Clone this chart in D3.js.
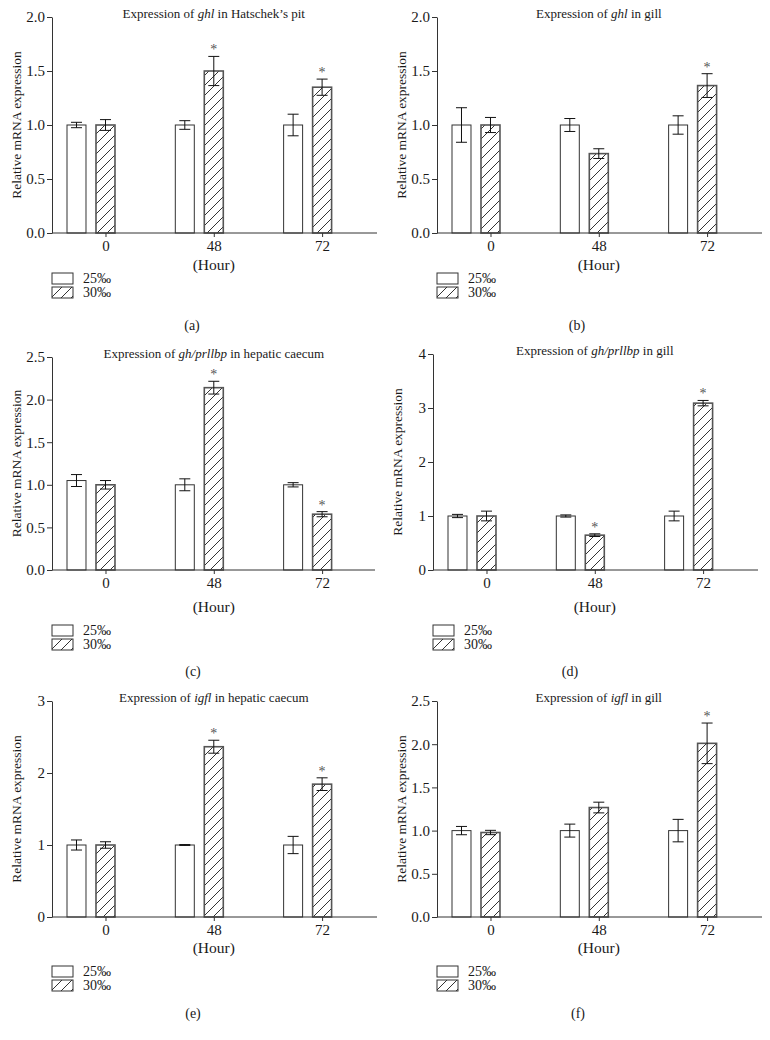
<!DOCTYPE html>
<html>
<head>
<meta charset="utf-8">
<script src="https://cdn.jsdelivr.net/npm/d3@7"></script>
<style>
  body { margin: 0; background: #fff; }
  text { font-family: "Liberation Serif", "DejaVu Serif", serif; fill: #1a1a1a; }
</style>
</head>
<body>
<script>
// categories
var hours = ["0", "48", "72"];
var salinity = ["25‰", "30‰"];

// (a) ghl in Hatschek's pit
var pitGhl25 = [1.00, 1.00, 1.00];
var pitGhl25Err = [0.025, 0.04, 0.10];
var pitGhl30 = [1.00, 1.50, 1.35];
var pitGhl30Err = [0.05, 0.135, 0.075];
var pitGhlStar = [0, 1, 1];
var ticksA = [0, 0.5, 1.0, 1.5, 2.0];

// (b) ghl in gill
var gillGhl25 = [1.00, 1.00, 1.00];
var gillGhl25Err = [0.16, 0.06, 0.085];
var gillGhl30 = [1.00, 0.735, 1.365];
var gillGhl30Err = [0.07, 0.045, 0.11];
var gillGhlStar = [0, 0, 1];
var ticksB = [0, 0.5, 1.0, 1.5, 2.0];

// (c) gh/prllbp in hepatic caecum
var caecumGh25 = [1.05, 1.00, 1.00];
var caecumGh25Err = [0.07, 0.07, 0.025];
var caecumGh30 = [1.00, 2.14, 0.655];
var caecumGh30Err = [0.05, 0.075, 0.03];
var caecumGhStar = [0, 1, 1];
var ticksC = [0, 0.5, 1.0, 1.5, 2.0, 2.5];

// (d) gh/prllbp in gill
var gillGh25 = [1.00, 1.00, 1.00];
var gillGh25Err = [0.03, 0.02, 0.09];
var gillGh30 = [1.00, 0.645, 3.09];
var gillGh30Err = [0.09, 0.025, 0.05];
var gillGhStar = [0, 1, 1];
var ticksD = [0, 1, 2, 3, 4];

// (e) igfl in hepatic caecum
var caecumIgf25 = [1.00, 1.00, 1.00];
var caecumIgf25Err = [0.07, 0.006, 0.12];
var caecumIgf30 = [1.00, 2.365, 1.845];
var caecumIgf30Err = [0.045, 0.09, 0.088];
var caecumIgfStar = [0, 1, 1];
var ticksE = [0, 1, 2, 3];

// (f) igfl in gill
var gillIgf25 = [1.00, 1.00, 1.00];
var gillIgf25Err = [0.048, 0.075, 0.13];
var gillIgf30 = [0.978, 1.267, 2.01];
var gillIgf30Err = [0.025, 0.062, 0.235];
var gillIgfStar = [0, 0, 1];
var ticksF = [0, 0.5, 1.0, 1.5, 2.0, 2.5];

var panels = [
  {letter: "(a)", title: ["Expression of ", "ghl", " in Hatschek’s pit"], low: pitGhl25, lowErr: pitGhl25Err, high: pitGhl30, highErr: pitGhl30Err, star: pitGhlStar, ticks: ticksA, fmt: ".1f",
   axisX: 52, top: 17, bottom: 233, right: 377, legendY: 273, hourDy: 37, letterX: 192, letterY: 330},
  {letter: "(b)", title: ["Expression of ", "ghl", " in gill"], low: gillGhl25, lowErr: gillGhl25Err, high: gillGhl30, highErr: gillGhl30Err, star: gillGhlStar, ticks: ticksB, fmt: ".1f",
   axisX: 437, top: 17, bottom: 233, right: 762, legendY: 273, hourDy: 37, letterX: 577, letterY: 330},
  {letter: "(c)", title: ["Expression of ", "gh/prllbp", " in hepatic caecum"], low: caecumGh25, lowErr: caecumGh25Err, high: caecumGh30, highErr: caecumGh30Err, star: caecumGhStar, ticks: ticksC, fmt: ".1f",
   axisX: 52, top: 357, bottom: 570, right: 375, legendY: 625, hourDy: 42, letterX: 193, letterY: 676},
  {letter: "(d)", title: ["Expression of ", "gh/prllbp", " in gill"], low: gillGh25, lowErr: gillGh25Err, high: gillGh30, highErr: gillGh30Err, star: gillGhStar, ticks: ticksD, fmt: "d",
   axisX: 433, top: 354, bottom: 570, right: 758, legendY: 625, hourDy: 42, letterX: 570, letterY: 676},
  {letter: "(e)", title: ["Expression of ", "igfl", " in hepatic caecum"], low: caecumIgf25, lowErr: caecumIgf25Err, high: caecumIgf30, highErr: caecumIgf30Err, star: caecumIgfStar, ticks: ticksE, fmt: "d",
   axisX: 52, top: 701, bottom: 917, right: 377, legendY: 966, hourDy: 36, letterX: 193, letterY: 1018},
  {letter: "(f)", title: ["Expression of ", "igfl", " in gill"], low: gillIgf25, lowErr: gillIgf25Err, high: gillIgf30, highErr: gillIgf30Err, star: gillIgfStar, ticks: ticksF, fmt: ".1f",
   axisX: 437, top: 701, bottom: 917, right: 762, legendY: 966, hourDy: 36, letterX: 578, letterY: 1018}
];

var svg = d3.select("body").append("svg")
  .attr("width", 770)
  .attr("height", 1040);

svg.append("defs").append("pattern")
  .attr("id", "hatch")
  .attr("patternUnits", "userSpaceOnUse")
  .attr("width", 10)
  .attr("height", 10)
  .append("path")
  .attr("d", "M-1,11 L11,-1 M-1,1 L1,-1 M9,11 L11,9")
  .attr("stroke", "#333")
  .attr("stroke-width", 1);

function drawPanel(p) {
  var g = svg.append("g");

  var x0 = d3.scaleBand()
    .domain(hours)
    .range([p.axisX + 15, p.axisX + 15 + 264.6])
    .paddingInner(0.557)
    .paddingOuter(0)
    .align(0);

  var x1 = d3.scaleBand()
    .domain(salinity)
    .range([0, x0.bandwidth()])
    .paddingInner(0.345)
    .paddingOuter(0);

  var y = d3.scaleLinear()
    .domain([0, d3.max(p.ticks)])
    .range([p.bottom, p.top]);

  // ticks sit under the 30‰ bar of each group
  var xTick = d3.scaleOrdinal()
    .domain(hours)
    .range(hours.map(function(h) { return x0(h) + x1(salinity[1]) + x1.bandwidth() / 2; }));

  var rows = hours.map(function(h, i) {
    return [
      {hour: h, s: salinity[0], v: p.low[i], e: p.lowErr[i], star: 0},
      {hour: h, s: salinity[1], v: p.high[i], e: p.highErr[i], star: p.star[i]}
    ];
  });
  var flat = [].concat.apply([], rows);

  g.selectAll(".bar")
    .data(flat)
    .enter().append("rect")
    .attr("class", "bar")
    .attr("x", function(d) { return x0(d.hour) + x1(d.s); })
    .attr("y", function(d) { return y(d.v); })
    .attr("width", x1.bandwidth())
    .attr("height", function(d) { return y(0) - y(d.v); })
    .attr("fill", function(d) { return d.s === salinity[0] ? "#fff" : "url(#hatch)"; })
    .attr("stroke", function(d) { return d.s === salinity[0] ? "#333" : "#555"; })
    .attr("stroke-width", function(d) { return d.s === salinity[0] ? 1 : 1.6; });

  var eb = g.selectAll(".err")
    .data(flat)
    .enter().append("g")
    .attr("class", "err")
    .attr("transform", function(d) { return "translate(" + (x0(d.hour) + x1(d.s) + x1.bandwidth() / 2) + ",0)"; });
  eb.append("line")
    .attr("y1", function(d) { return y(d.v - d.e); })
    .attr("y2", function(d) { return y(d.v + d.e); })
    .attr("stroke", "#111");
  eb.append("line")
    .attr("x1", -5.5).attr("x2", 5.5)
    .attr("y1", function(d) { return y(d.v + d.e); })
    .attr("y2", function(d) { return y(d.v + d.e); })
    .attr("stroke", "#111");
  eb.append("line")
    .attr("x1", -5.5).attr("x2", 5.5)
    .attr("y1", function(d) { return y(d.v - d.e); })
    .attr("y2", function(d) { return y(d.v - d.e); })
    .attr("stroke", "#111");
  eb.filter(function(d) { return d.star; })
    .append("text")
    .attr("y", function(d) { return y(d.v + d.e) - 2; })
    .attr("text-anchor", "middle")
    .attr("font-size", 14)
    .style("fill", "#555")
    .text("*");

  // y axis
  var yAxis = g.append("g")
    .attr("transform", "translate(" + p.axisX + ",0)")
    .call(d3.axisLeft(y).tickValues(p.ticks).tickFormat(d3.format(p.fmt)).tickSize(5).tickSizeOuter(0).tickPadding(2));

  // x axis
  var xAxis = g.append("g")
    .attr("transform", "translate(0," + p.bottom + ")")
    .call(d3.axisBottom(xTick).tickSize(4).tickSizeOuter(0).tickPadding(3));
  xAxis.select(".domain").remove();
  xAxis.append("line")
    .attr("x1", p.axisX).attr("x2", p.right)
    .attr("stroke", "#333");

  [yAxis, xAxis].forEach(function(a) {
    a.selectAll(".domain").attr("stroke", "#333");
    a.selectAll(".tick line").attr("stroke", "#333");
    a.selectAll(".tick text")
      .attr("font-size", 15)
      .attr("font-family", "Liberation Serif, serif")
      .style("fill", "#1a1a1a");
  });

  // title
  var t = g.append("text")
    .attr("x", xTick(hours[1]))
    .attr("y", p.top + 1)
    .attr("text-anchor", "middle")
    .attr("font-size", 13);
  p.title.forEach(function(s, i) {
    t.append("tspan").attr("font-style", i === 1 ? "italic" : null).text(s);
  });

  g.append("text")
    .attr("transform", "translate(" + (p.axisX - 31) + "," + ((p.top + p.bottom) / 2) + ") rotate(-90)")
    .attr("text-anchor", "middle")
    .attr("font-size", 13.5)
    .text("Relative mRNA expression");

  g.append("text")
    .attr("x", xTick(hours[1]))
    .attr("y", p.bottom + p.hourDy)
    .attr("text-anchor", "middle")
    .attr("font-size", 15.5)
    .text("(Hour)");

  // legend
  var leg = g.selectAll(".leg")
    .data(salinity)
    .enter().append("g")
    .attr("transform", function(d, i) { return "translate(" + p.axisX + "," + (p.legendY + i * 14) + ")"; });
  leg.append("rect")
    .attr("width", 21).attr("height", 11)
    .attr("fill", function(d, i) { return i === 0 ? "#fff" : "url(#hatch)"; })
    .attr("stroke", "#333");
  leg.append("text")
    .attr("x", 31).attr("y", 10)
    .attr("font-size", 14)
    .text(function(d) { return d; });

  g.append("text")
    .attr("x", p.letterX)
    .attr("y", p.letterY)
    .attr("text-anchor", "middle")
    .attr("font-size", 14)
    .text(p.letter);
}

panels.forEach(drawPanel);
</script>
</body>
</html>
